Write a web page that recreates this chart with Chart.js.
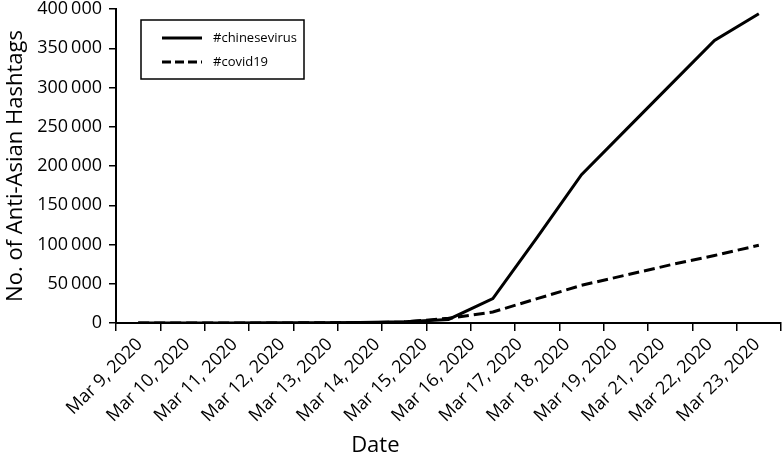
<!DOCTYPE html>
<html><head><meta charset="utf-8">
<script src="https://cdn.jsdelivr.net/npm/chart.js@4.4.1/dist/chart.umd.min.js"></script>
<style>html,body{margin:0;padding:0;background:#fff}#wrap{width:782px;height:458px;position:relative}</style>
</head><body><div id="wrap"><canvas id="c"></canvas></div>
<script>
// ---- data ----
const categories = ['Mar 9, 2020','Mar 10, 2020','Mar 11, 2020','Mar 12, 2020','Mar 13, 2020','Mar 14, 2020','Mar 15, 2020','Mar 16, 2020','Mar 17, 2020','Mar 18, 2020','Mar 19, 2020','Mar 20, 2020','Mar 21, 2020','Mar 22, 2020','Mar 23, 2020'];
const tickLabels = ['Mar 9, 2020','Mar 10, 2020','Mar 11, 2020','Mar 12, 2020','Mar 13, 2020','Mar 14, 2020','Mar 15, 2020','Mar 16, 2020','Mar 17, 2020','Mar 18, 2020','Mar 19, 2020','Mar 21, 2020','Mar 22, 2020','Mar 23, 2020'];
const chineseVirus = [0, 0, 100, 200, 300, 500, 1500, 4500, 31000, 109000, 189000, 246000, 303000, 360000, 394000];
const covid19 = [0, 0, 0, 100, 200, 400, 1200, 6000, 14000, 31000, 48000, 61000, 74000, 86000, 99000];
const seriesNames = ['#chinesevirus', '#covid19'];
const yTickValues = [0, 50000, 100000, 150000, 200000, 250000, 300000, 350000, 400000];
const yTickLabels = ['0', '50\u2009000', '100\u2009000', '150\u2009000', '200\u2009000', '250\u2009000', '300\u2009000', '350\u2009000', '400\u2009000'];
const xTitle = 'Date';
const yTitle = 'No. of Anti-Asian Hashtags';

// ---- style ----
const FONT = "'Open Sans', sans-serif";
Chart.defaults.font.family = FONT;
Chart.defaults.color = '#000';

const boxLegend = {
  id: 'boxLegend',
  afterDraw(chart) {
    const ctx = chart.ctx;
    ctx.save();
    ctx.strokeStyle = '#000';
    ctx.lineWidth = 1.5;
    ctx.strokeRect(141, 20, 163, 59);
    chart.data.datasets.forEach((ds, i) => {
      const y = 38 + i * 24;
      ctx.beginPath();
      ctx.setLineDash(ds.legendDash || []);
      ctx.lineWidth = 3;
      ctx.strokeStyle = ds.borderColor;
      ctx.moveTo(162, y); ctx.lineTo(202, y);
      ctx.stroke();
      ctx.setLineDash([]);
      ctx.fillStyle = '#000';
      ctx.font = "13px " + FONT;
      ctx.textBaseline = 'middle';
      ctx.textAlign = 'left';
      ctx.fillText(ds.label, 213, y);
    });
    // x axis title
    const ca = chart.chartArea;
    ctx.font = "22px " + FONT;
    ctx.textAlign = 'center';
    ctx.textBaseline = 'alphabetic';
    ctx.fillText(xTitle, ca.left + (ca.right - ca.left) * 0.39, 451.5);
    ctx.restore();
  }
};

new Chart(document.getElementById('c'), {
  type: 'line',
  data: {
    labels: categories,
    datasets: [
      { label: seriesNames[0], data: chineseVirus, borderColor: '#000', borderWidth: 3, pointRadius: 0, tension: 0, fill: false, xAxisID: 'x', legendDash: [] },
      { label: seriesNames[1], data: covid19, borderColor: '#000', borderWidth: 3, borderDash: [11, 5], pointRadius: 0, tension: 0, fill: false, xAxisID: 'x', legendDash: [9, 4] }
    ]
  },
  options: {
    responsive: true,
    maintainAspectRatio: false,
    animation: false,
    layout: { padding: { top: 9, right: 1, left: 0, bottom: 0 } },
    plugins: { legend: { display: false }, tooltip: { enabled: false } },
    scales: {
      x: {
        type: 'category',
        position: 'bottom',
        weight: 0,
        offset: true,
        grid: { display: true, drawOnChartArea: false, offset: true, tickLength: 8, color: '#000', lineWidth: 1.5 },
        border: { display: true, color: '#000', width: 2 },
        ticks: { display: false },
        afterFit(s) { s.height = 8; s.paddingLeft = 0; s.paddingRight = 0; }
      },
      x2: {
        type: 'category',
        position: 'bottom',
        weight: 1,
        labels: tickLabels,
        offset: true,
        grid: { display: false, drawTicks: false },
        border: { display: false },
        ticks: { autoSkip: false, maxRotation: 45, minRotation: 45, padding: 3, font: { size: 18 }, color: '#000' },
        afterFit(s) { s.height = 127; s.paddingLeft = 0; s.paddingRight = 0; }
      },
      y: {
        min: 0,
        max: 400000,
        afterBuildTicks(s) { s.ticks = yTickValues.map(v => ({ value: v })); },
        grid: { drawOnChartArea: false, tickLength: 7, color: '#000', lineWidth: 1.5 },
        border: { display: true, color: '#000', width: 2 },
        ticks: { padding: 7, font: { size: 18 }, color: '#000', callback: (v) => { const i = yTickValues.indexOf(v); return i >= 0 ? yTickLabels[i] : ''; } },
        title: { display: true, text: yTitle, font: { size: 22 }, color: '#000', padding: { top: 3, bottom: 0 } },
        afterFit(s) { s.width = 116; s.paddingTop = 0; s.paddingBottom = 0; }
      }
    }
  },
  plugins: [boxLegend]
});
</script>
</body></html>
